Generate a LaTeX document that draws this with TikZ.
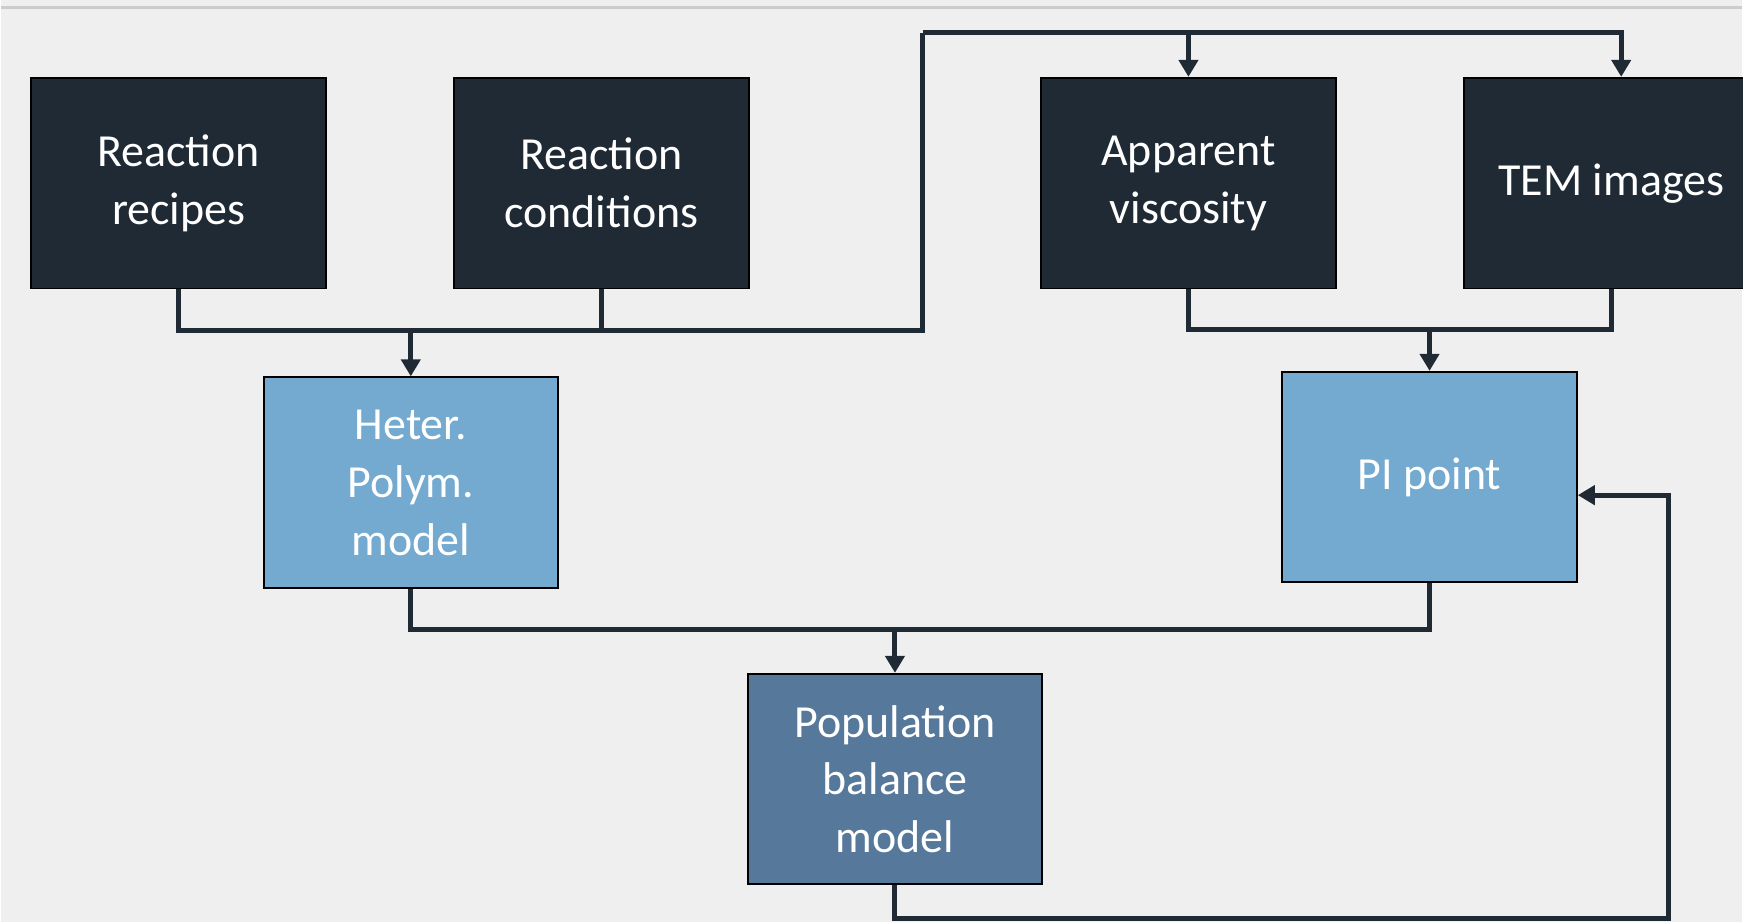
\documentclass[tikz,border=0pt]{standalone}
\usepackage{fontspec}
\setmainfont{Carlito}
\usetikzlibrary{arrows.meta}

\definecolor{darkbox}{HTML}{1F2A35}
\definecolor{lightbox}{HTML}{74A9D0}
\definecolor{midbox}{HTML}{56789A}
\definecolor{bgcol}{HTML}{EFEFEF}

\begin{document}
\begin{tikzpicture}[x=0.5pt, y=-0.5pt,
    box/.style={draw=black, line width=1pt, minimum width=147.5pt, minimum height=105.5pt,
        inner sep=0pt, align=center, text=white, font=\fontsize{23}{29}\selectfont},
    line/.style={draw=darkbox, line width=2.5pt},
    arrow/.style={line, -{Triangle[length=8.5pt, width=9.5pt]}}]
    % Background and top rule
    \fill[bgcol] (0,0) rectangle (1743,924);
    \draw[gray!40, line width=1.5pt] (0,8) -- (1743,8);
    \useasboundingbox (0,0) rectangle (1743,924);

    % Input boxes
    \node[box, fill=darkbox] (recipes) at (177.5,183.5) {Reaction\\recipes};
    \node[box, fill=darkbox] (conditions) at (601,183.5) {Reaction\\conditions};
    \node[box, fill=darkbox] (viscosity) at (1189,183.5) {Apparent\\viscosity};
    \node[box, fill=darkbox] (tem) at (1612.5,183.5) {TEM images};

    % Models
    \node[box, fill=lightbox] (heter) at (410,483.5) {Heter.\\Polym.\\model};
    \node[box, fill=lightbox] (pipoint) at (1430.5,478) {PI point};
    \node[box, fill=midbox] (pbm) at (895,780.5) {Population\\balance\\model};

    % Bends of the connectors
    \coordinate (inbus) at (923,331);
    \coordinate (topbus) at (923,33);
    \coordinate (expbus) at (1189,330);
    \coordinate (modbus) at (895,631);
    \coordinate (loopcorner) at (1670,920);

    % Inputs to the polymerization model and to the measurements
    \draw[line] (recipes.south) |- (inbus) -- (topbus);
    \draw[line] (conditions.south) -- (conditions.south |- inbus);
    \draw[arrow] (heter.north |- inbus) -- (heter.north);
    \draw[arrow] (topbus) -| ([xshift=5pt]tem.north);
    \draw[arrow] (topbus -| viscosity.north) -- (viscosity.north);

    % Measurements to PI point
    \draw[line] (viscosity.south) |- (expbus) -| (tem.south);
    \draw[arrow] (pipoint.north |- expbus) -- (pipoint.north);

    % Models to population balance
    \draw[line] (heter.south) |- (modbus) -| (pipoint.south);
    \draw[arrow] (modbus) -- (pbm.north);

    % Feedback loop
    \draw[arrow] (pbm.south) |- (loopcorner) |- ([yshift=-9pt]pipoint.east);
\end{tikzpicture}
\end{document}
